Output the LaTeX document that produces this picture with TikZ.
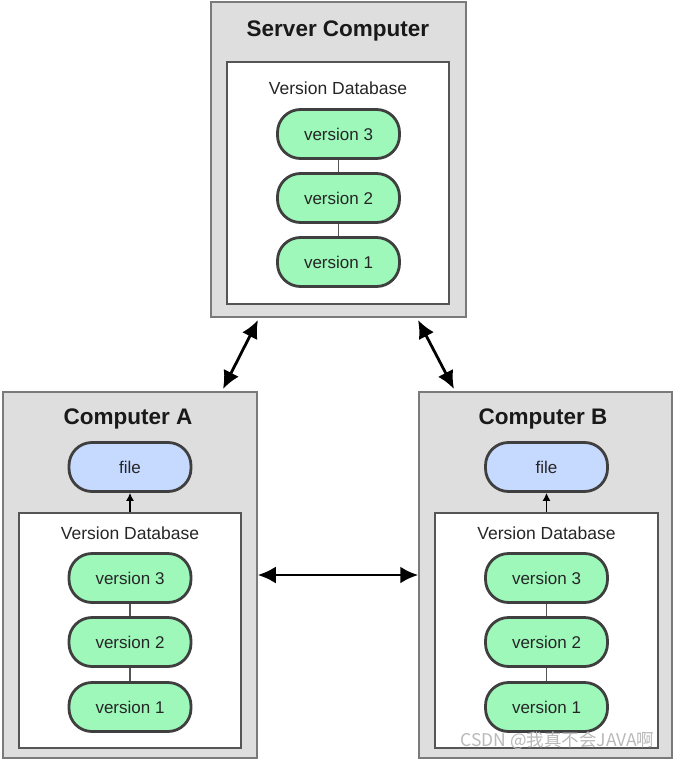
\documentclass[tikz,border=0pt]{standalone}
\usepackage{fontspec}
\setmainfont{Liberation Sans}
\newfontfamily\cjkfont{Noto Sans CJK SC}
\usetikzlibrary{arrows.meta}
\definecolor{boxgray}{HTML}{DEDEDE}
\definecolor{boxedge}{HTML}{7A7A7A}
\definecolor{inneredge}{HTML}{555555}
\definecolor{pillgreen}{HTML}{9DF8BA}
\definecolor{pillblue}{HTML}{C6D9FE}
\definecolor{pilledge}{HTML}{3F3F3F}
\tikzset{
  outerbox/.style={draw=boxedge, fill=boxgray, line width=1.5pt, inner sep=0pt},
  innerbox/.style={draw=inneredge, fill=white, line width=1.5pt, inner sep=0pt},
  titletext/.style={font=\fontsize{22.5}{26}\selectfont\bfseries, text=black!90},
  dbtext/.style={font=\fontsize{17.5}{20}\selectfont, text=black!85},
  pill/.style={draw=pilledge, line width=2.8pt, rounded corners=23pt, minimum width=122pt, minimum height=49pt, font=\fontsize{17}{20}\selectfont, text=black!85},
  vpill/.style={pill, fill=pillgreen},
  fpill/.style={pill, fill=pillblue},
  vlink/.style={draw=inneredge, line width=1.2pt},
  bigarrow/.style={line width=2.8pt, {Latex[length=18pt,width=17pt]}-{Latex[length=18pt,width=17pt]}},
  smallarrow/.style={line width=1.3pt, -{Latex[length=8pt,width=8pt]}},
}
\begin{document}
\begin{tikzpicture}[x=1pt,y=-1pt]
\useasboundingbox (0,0) rectangle (673,762);
% server
\node[outerbox, minimum width=255pt, minimum height=315pt] (server) at (338.5,159.5) {};
\node[innerbox, minimum width=222pt, minimum height=242pt] (sdb) at (338,183) {};
\node[titletext] (stitle) at (338,31) {Server Computer};
\node[dbtext] (sdbt) at (338,88) {Version Database};
\node[vpill] (s3) at (338.5,134) {version 3};
\node[vpill] (s2) at (338.5,198) {version 2};
\node[vpill] (s1) at (338.5,262) {version 1};
\draw[vlink] (s3) -- (s2);
\draw[vlink] (s2) -- (s1);
% computer A
\node[outerbox, minimum width=254pt, minimum height=366pt] (A) at (130,575) {};
\node[innerbox, minimum width=222pt, minimum height=235pt] (adb) at (130,630.5) {};
\node[titletext] (atitle) at (128,419) {Computer A};
\node[fpill] (afile) at (130,467) {file};
\node[dbtext] (adbt) at (130,533) {Version Database};
\node[vpill] (a3) at (130,578) {version 3};
\node[vpill] (a2) at (130,642) {version 2};
\node[vpill] (a1) at (130,707) {version 1};
\draw[vlink] (a3) -- (a2);
\draw[vlink] (a2) -- (a1);
\draw[smallarrow] (adb.north -| afile) -- (afile.south);
% computer B
\node[outerbox, minimum width=253pt, minimum height=366pt] (B) at (545.5,575) {};
\node[innerbox, minimum width=223pt, minimum height=235pt] (bdb) at (546.5,630.5) {};
\node[titletext] (btitle) at (543,419) {Computer B};
\node[fpill] (bfile) at (546.5,467) {file};
\node[dbtext] (bdbt) at (546.5,533) {Version Database};
\node[vpill] (b3) at (546.5,578) {version 3};
\node[vpill] (b2) at (546.5,642) {version 2};
\node[vpill] (b1) at (546.5,707) {version 1};
\draw[vlink] (b3) -- (b2);
\draw[vlink] (b2) -- (b1);
\draw[smallarrow] (bdb.north -| bfile) -- (bfile.south);
% arrows
\coordinate (sa) at (258,320);
\coordinate (as) at (223,389);
\coordinate (sb) at (418,320);
\coordinate (bs) at (454,389);
\draw[bigarrow] (sa) -- (as);
\draw[bigarrow] (sb) -- (bs);
\draw[bigarrow] (A.east) -- (B.west);
% watermark
\node[font=\cjkfont\fontsize{17.5}{20}\selectfont, text=gray!55, anchor=east] (wm) at (658,741) {CSDN @我真不会JAVA啊};
\end{tikzpicture}
\end{document}
